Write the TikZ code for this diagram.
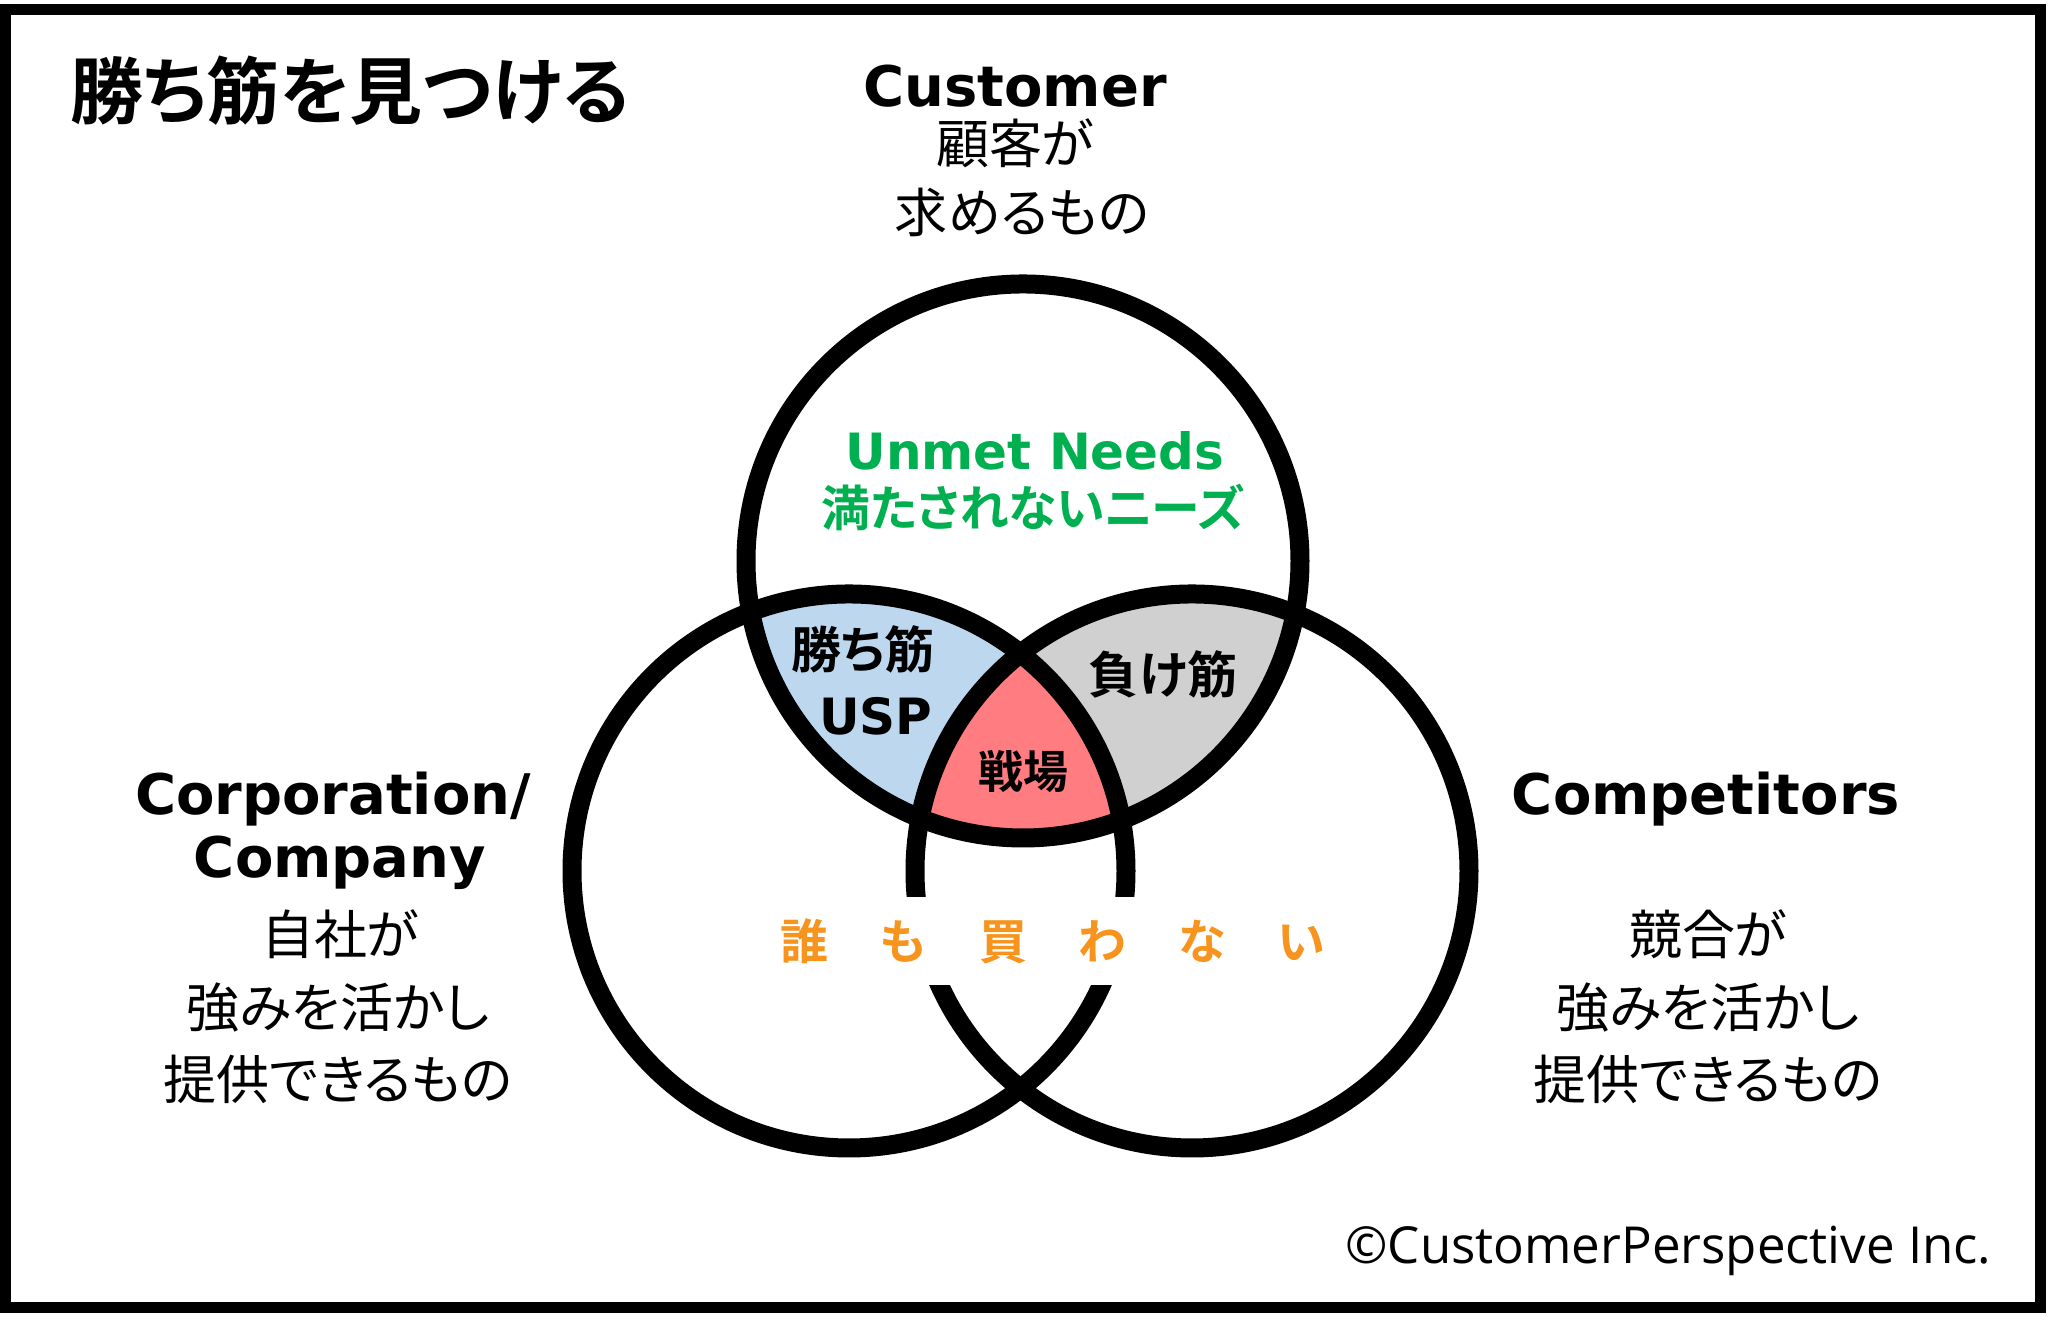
\documentclass[tikz,border=0pt]{standalone}
\usepackage{fontspec}
\usepackage{tkz-euclide}
\setmainfont{DejaVu Sans}
\newfontfamily\jpfont{Noto Sans CJK JP}[RawFeature=+palt, BoldFont=Noto Sans CJK JP Bold]
\newfontfamily\jpwide{Noto Sans CJK JP}[BoldFont=Noto Sans CJK JP Bold]
\newfontfamily\copyfont{Open Sans}
\definecolor{uspblue}{RGB}{189,215,238}
\definecolor{battlered}{RGB}{255,124,128}
\definecolor{losegray}{RGB}{208,208,208}
\definecolor{needgreen}{RGB}{0,176,80}
\definecolor{nobodyorange}{RGB}{247,148,29}
\newcommand\chargap{\hspace{0.514cm}}

\begin{document}
\begin{tikzpicture}[ring/.style={line width=0.19cm},
    head/.style={font=\fontsize{15.93}{19}\selectfont\bfseries, anchor=base},
    jptext/.style={font=\jpfont\fontsize{15.08}{18}\selectfont, anchor=base},
    zone/.style={font=\jpfont\fontsize{14.23}{17}\selectfont\bfseries, anchor=base}]
    \useasboundingbox (0,0) rectangle (20.48,13.17);
    \draw[line width=0.11cm] (0.055,0.09) rectangle (20.405,13.07);
    \tkzDefPoints{10.23/7.56/Cus, 8.49/4.46/Cor, 11.92/4.46/Com}
    % overlaps
    \begin{scope}
        \clip (Cus) circle (2.77);
        \fill[uspblue] (Cor) circle (2.77);
        \fill[losegray] (Com) circle (2.77);
        \clip (Cor) circle (2.77);
        \fill[battlered] (Com) circle (2.77);
    \end{scope}
    \draw[ring] (Cus) circle (2.77);
    \draw[ring] (Cor) circle (2.77);
    \draw[ring] (Com) circle (2.77);
    \node[anchor=base west, font=\jpfont\fontsize{20.77}{24}\selectfont\bfseries] (title) at (0.58,11.98) {勝ち筋を見つける};
    \node[head] (cust) at (10.15,12.10) {Customer};
    \node[jptext] (custa) at (10.15,11.534) {顧客が};
    \node[jptext] (custb) at (10.22,10.844) {求めるもの};
    \node[head] (cor) at (3.33,5.02) {Corporation/};
    \node[head] (cora) at (3.40,4.39) {Company};
    \node[jptext] (corb) at (3.40,3.62) {自社が};
    \node[jptext] (corc) at (3.38,2.894) {強みを活かし};
    \node[jptext] (cord) at (3.38,2.17) {提供できるもの};
    \node[head] (com) at (17.06,5.02) {Competitors};
    \node[jptext] (coma) at (17.08,3.62) {競合が};
    \node[jptext] (comb) at (17.08,2.894) {強みを活かし};
    \node[jptext] (comc) at (17.08,2.17) {提供できるもの};
    \node[head, font=\fontsize{14.23}{17}\selectfont\bfseries, needgreen] (needs) at (10.35,8.47) {Unmet Needs};
    \node[zone, font=\jpfont\fontsize{13.9}{17}\selectfont\bfseries, needgreen] (needsjp) at (10.33,7.90) {満たされないニーズ};
    \node[zone] (win) at (8.63,6.48) {勝ち筋};
    \node[head, font=\fontsize{14.23}{17}\selectfont\bfseries] (usp) at (8.76,5.82) {USP};
    \node[zone] (lose) at (11.63,6.23) {負け筋};
    \node[zone, font=\jpfont\fontsize{12.8}{15}\selectfont\bfseries] (battle) at (10.23,5.28) {戦場};
    \node[fill=white, inner xsep=0.1cm, inner ysep=0.21cm, text=nobodyorange,
        font=\jpwide\fontsize{13.66}{16}\selectfont\bfseries] (nobody) at (10.53,3.76)
        {誰\chargap も\chargap 買\chargap わ\chargap な\chargap い};
    \node[anchor=base east, font=\copyfont\fontsize{14.51}{17}\selectfont] (copy) at (20.04,0.53) {©CustomerPerspective Inc.};
\end{tikzpicture}
\end{document}
